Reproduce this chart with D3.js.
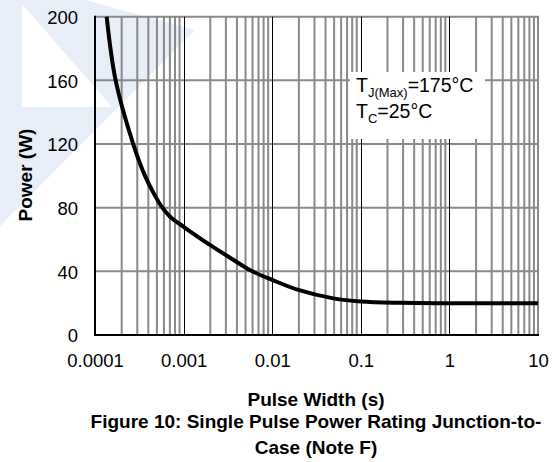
<!DOCTYPE html>
<html>
<head>
<meta charset="utf-8">
<script src="https://cdn.jsdelivr.net/npm/d3@7"></script>
<style>
  body { margin: 0; background: #fff; }
  svg text { font-family: Arial, "Liberation Sans", sans-serif; fill: #000; }
</style>
</head>
<body>
<div id="chart"></div>
<script>
// pulse width (s) and single pulse power rating (W)
var pulseWidth = [1.355e-4, 1.71e-4, 2.7e-4, 3.67e-4, 4.6e-4, 5.6e-4, 7.0e-4, 1e-3, 2e-3, 3.64e-3, 5.6e-3, 0.01, 0.0197, 0.049, 0.1, 0.277, 1, 10];
var power      = [200,      160,     120,    100,     89,     81,     74.5,   68,   56.5, 47.3,    40.8,   34.6, 28.3,   23,    21,  20.2,  20, 20];

var xTicks = [1e-4, 1e-3, 1e-2, 0.1, 1, 10];
var xTickLabels = ["0.0001", "0.001", "0.01", "0.1", "1", "10"];
var yTicks = [0, 40, 80, 120, 160, 200];

var W = 555, H = 462;
var margin = {top: 16.7, right: 17, bottom: 127, left: 95};

var svg = d3.select("#chart").append("svg")
  .attr("width", W)
  .attr("height", H);

// faint watermark in the corner
var wm = svg.append("g").attr("fill", "#e8eef8");
wm.append("path").attr("d", "M0,0 L85,0 L195,30 L0,226 Z");
wm.append("path").attr("fill", "#fff").attr("d", "M22,4 L22,107 L112,107 Z");

var x = d3.scaleLog()
  .domain([1e-4, 10])
  .range([margin.left, W - margin.right]);

var y = d3.scaleLinear()
  .domain([0, 200])
  .range([H - margin.bottom, margin.top]);

var y0 = y(0), y1 = y(200);

// minor vertical grid
var isDecade = function(v) { return Math.abs(Math.log10(v) - Math.round(Math.log10(v))) < 1e-9; };
var minor = x.ticks().filter(function(v) { return !isDecade(v); });

var grid = svg.append("g");
grid.selectAll("line.minor")
  .data(minor.concat([10]))
  .enter().append("line")
    .attr("x1", function(d) { return x(d); })
    .attr("x2", function(d) { return x(d); })
    .attr("y1", y0)
    .attr("y2", y1)
    .attr("stroke", "#898989")
    .attr("stroke-width", 2);

grid.selectAll("line.h")
  .data(yTicks.slice(1))
  .enter().append("line")
    .attr("x1", x(1e-4))
    .attr("x2", x(10) + 1)
    .attr("y1", function(d) { return y(d); })
    .attr("y2", function(d) { return y(d); })
    .attr("stroke", "#898989")
    .attr("stroke-width", 2);

// decade lines
grid.selectAll("line.major")
  .data([1e-3, 1e-2, 0.1, 1])
  .enter().append("line")
    .attr("x1", function(d) { return Math.round(x(d)) + 0.5; })
    .attr("x2", function(d) { return Math.round(x(d)) + 0.5; })
    .attr("y1", y0)
    .attr("y2", y1)
    .attr("stroke", "#000")
    .attr("stroke-width", 1);

// axis lines
svg.append("line")
  .attr("x1", x(1e-4)).attr("x2", x(1e-4))
  .attr("y1", y0 + 1).attr("y2", y1 - 1)
  .attr("stroke", "#000").attr("stroke-width", 2);
svg.append("line")
  .attr("x1", x(1e-4) - 1).attr("x2", x(10) + 1)
  .attr("y1", y0).attr("y2", y0)
  .attr("stroke", "#000").attr("stroke-width", 2);

// annotation box
svg.append("rect")
  .attr("x", 350).attr("y", 72)
  .attr("width", 135).attr("height", 67)
  .attr("fill", "#fff");

var note = svg.append("text").attr("font-size", 19.5);
note.append("tspan").attr("x", 356).attr("y", 92).text("T");
note.append("tspan").attr("font-size", 13).attr("dy", 5).text("J(Max)");
note.append("tspan").attr("dy", -5).text("=175°C");

var note2 = svg.append("text").attr("font-size", 19.5);
note2.append("tspan").attr("x", 356).attr("y", 118).text("T");
note2.append("tspan").attr("font-size", 13).attr("dy", 5).text("C");
note2.append("tspan").attr("dy", -5).text("=25°C");

// curve
var pts = pulseWidth.map(function(t, i) { return [x(t), y(power[i])]; });
var line = d3.line().curve(d3.curveCatmullRom.alpha(0.5));
svg.append("path")
  .attr("d", line(pts))
  .attr("fill", "none")
  .attr("stroke", "#000")
  .attr("stroke-width", 4)
  .attr("stroke-linejoin", "round");

// axes labels
var xAxis = d3.axisBottom(x)
  .tickValues(xTicks)
  .tickSize(0)
  .tickFormat(function(d, i) { return xTickLabels[i]; });

var gx = svg.append("g")
  .attr("transform", "translate(0," + y0 + ")")
  .call(xAxis);
gx.select(".domain").remove();
gx.selectAll("text")
  .attr("y", 32)
  .attr("dy", 0)
  .attr("font-size", 18.5)
  .attr("font-family", "Arial, 'Liberation Sans', sans-serif")
  .attr("fill", "#000");

var yAxis = d3.axisLeft(y)
  .tickValues(yTicks)
  .tickSize(0)
  .tickPadding(17);

var gy = svg.append("g")
  .attr("transform", "translate(" + margin.left + ",0)")
  .call(yAxis);
gy.select(".domain").remove();
gy.selectAll("text")
  .attr("dy", "0.36em")
  .attr("font-size", 18.5)
  .attr("font-family", "Arial, 'Liberation Sans', sans-serif")
  .attr("fill", "#000");

// titles
svg.append("text")
  .attr("transform", "translate(32,175) rotate(-90)")
  .attr("text-anchor", "middle")
  .attr("font-size", 19)
  .attr("font-weight", "bold")
  .text("Power (W)");

svg.append("text")
  .attr("x", 316).attr("y", 406)
  .attr("text-anchor", "middle")
  .attr("font-size", 19)
  .attr("font-weight", "bold")
  .text("Pulse Width (s)");

svg.append("text")
  .attr("x", 316).attr("y", 428)
  .attr("text-anchor", "middle")
  .attr("font-size", 19)
  .attr("font-weight", "bold")
  .text("Figure 10: Single Pulse Power Rating Junction-to-");

svg.append("text")
  .attr("x", 316).attr("y", 454)
  .attr("text-anchor", "middle")
  .attr("font-size", 19)
  .attr("font-weight", "bold")
  .text("Case (Note F)");
</script>
</body>
</html>
